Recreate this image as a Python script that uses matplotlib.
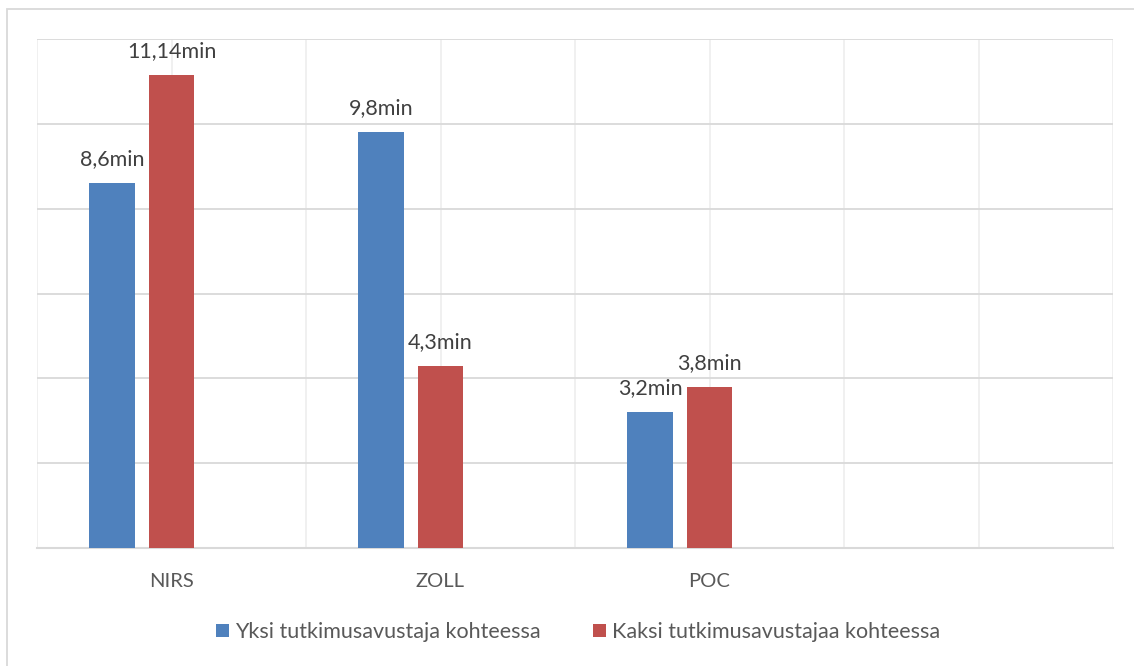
import numpy as np
import matplotlib.pyplot as plt
from matplotlib.patches import Rectangle

# ===========================
# DATA
# ===========================
categories = ["NIRS", "ZOLL", "POC", ""]
yksi = [8.6, 9.8, 3.2]          # Yksi tutkimusavustaja kohteessa
kaksi = [11.14, 4.3, 3.8]       # Kaksi tutkimusavustajaa kohteessa
yksi_labels = ["8,6min", "9,8min", "3,2min"]
kaksi_labels = ["11,14min", "4,3min", "3,8min"]
series_names = ["Yksi tutkimusavustaja kohteessa", "Kaksi tutkimusavustajaa kohteessa"]

# ===========================
# STYLE
# ===========================
BLUE = "#4F81BD"
RED = "#C0504D"
GRID = "#d9d9d9"
VGRID = "#efefef"
plt.rcParams['font.family'] = ['Lato', 'DejaVu Sans']

W, H = 1134, 666
fig = plt.figure(figsize=(W / 100, H / 100), dpi=100)
ax = fig.add_axes([37 / W, 1 - 548 / H, (1113 - 37) / W, (548 - 39) / H])

bar_w = 0.171
step = 0.221
x = np.arange(len(yksi))

b1 = ax.bar(x - step, yksi, width=bar_w, color=BLUE, label=series_names[0], zorder=3)
b2 = ax.bar(x, kaksi, width=bar_w, color=RED, label=series_names[1], zorder=3)

for bars, labels in ((b1, yksi_labels), (b2, kaksi_labels)):
    for rect, lab in zip(bars, labels):
        ax.annotate(lab, (rect.get_x() + rect.get_width() / 2, rect.get_height()),
                    xytext=(0, 10), textcoords="offset points", ha="center", va="bottom",
                    fontsize=15.5, color="#404040")

ax.set_xlim(-0.5, len(categories) - 0.5)
ax.set_ylim(0, 12)
ax.set_yticks(np.arange(0, 13, 2))
ax.set_yticklabels([])
ax.set_xticks(np.arange(len(categories)))
ax.set_xticklabels(categories, fontsize=14.5, color="#595959")
ax.set_xticks(np.arange(-0.5, len(categories), 1.0), minor=True)
ax.tick_params(axis="both", which="both", length=0)
ax.tick_params(axis="x", pad=18)

ax.grid(axis="y", color=GRID, linewidth=1.3, zorder=0)
ax.grid(axis="x", which="both", color=VGRID, linewidth=1.3, zorder=0)
for s in ("left", "right", "top"):
    ax.spines[s].set_visible(False)
ax.spines["bottom"].set_color(GRID)
ax.spines["bottom"].set_linewidth(1.5)

leg = fig.legend(loc="center", bbox_to_anchor=(578 / W, 1 - 632 / H), ncol=2,
                 frameon=False, fontsize=15.5, handlelength=0.6, handleheight=0.6,
                 handletextpad=0.3, columnspacing=2.4)
for t in leg.get_texts():
    t.set_color("#595959")

# outer chart border
fig.add_artist(Rectangle((7 / W, -0.1), 2, 1 - 9 / H + 0.1, transform=fig.transFigure,
                         fill=False, edgecolor=GRID, linewidth=1.3))

fig.savefig("out.png", dpi=100, facecolor="white")
